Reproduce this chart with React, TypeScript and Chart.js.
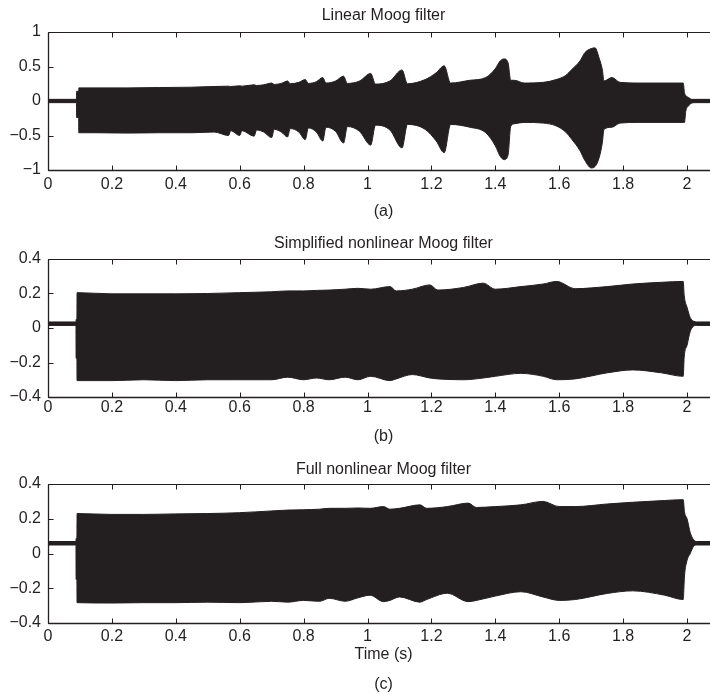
import React, { useEffect, useRef } from "react";
import { Chart, registerables } from "chart.js";

Chart.register(...registerables);

// ---------- shared axis ticks ----------
const xTicks = [0, 0.2, 0.4, 0.6, 0.8, 1, 1.2, 1.4, 1.6, 1.8, 2];
const xTickLabels = ["0", "0.2", "0.4", "0.6", "0.8", "1", "1.2", "1.4", "1.6", "1.8", "2"];
const yTicksA = [-1, -0.5, 0, 0.5, 1];
const yTickLabelsA = ["\u22121", "\u22120.5", "0", "0.5", "1"];
const yTicksBC = [-0.4, -0.2, 0, 0.2, 0.4];
const yTickLabelsBC = ["\u22120.4", "\u22120.2", "0", "0.2", "0.4"];

// ---------- (a) Linear Moog filter: envelope (time, upper, lower) ----------
const timeA = [0, 0.089, 0.0895, 0.096, 0.0965, 0.15, 0.25, 0.35, 0.45, 0.52, 0.565, 0.572, 0.6, 0.607, 0.645, 0.653, 0.675, 0.7, 0.708, 0.73, 0.75, 0.758, 0.785, 0.805, 0.815, 0.84, 0.86, 0.87, 0.9, 0.925, 0.937, 0.975, 1.01, 1.025, 1.07, 1.108, 1.125, 1.18, 1.215, 1.24, 1.26, 1.32, 1.37, 1.4, 1.415, 1.428, 1.44, 1.448, 1.46, 1.49, 1.55, 1.59, 1.62, 1.64, 1.665, 1.68, 1.7, 1.712, 1.725, 1.735, 1.74, 1.765, 1.79, 1.85, 1.95, 1.988, 1.992, 1.996, 2.005, 2.015, 2.025, 2.1];
const upperA = [0.024, 0.024, 0.14, 0.14, 0.19, 0.19, 0.19, 0.195, 0.2, 0.21, 0.215, 0.21, 0.22, 0.215, 0.235, 0.225, 0.235, 0.26, 0.24, 0.255, 0.29, 0.25, 0.27, 0.31, 0.255, 0.28, 0.34, 0.26, 0.29, 0.36, 0.255, 0.29, 0.4, 0.245, 0.29, 0.45, 0.25, 0.31, 0.41, 0.51, 0.26, 0.3, 0.34, 0.47, 0.58, 0.61, 0.55, 0.3, 0.3, 0.26, 0.27, 0.31, 0.37, 0.46, 0.58, 0.7, 0.76, 0.77, 0.62, 0.45, 0.29, 0.34, 0.27, 0.26, 0.26, 0.26, 0.12, 0.08, 0.05, 0.024, 0.024, 0.024];
const lowerA = [-0.024, -0.024, -0.24, -0.24, -0.46, -0.46, -0.465, -0.46, -0.46, -0.45, -0.5, -0.43, -0.5, -0.43, -0.51, -0.42, -0.45, -0.53, -0.41, -0.45, -0.52, -0.4, -0.45, -0.56, -0.39, -0.45, -0.58, -0.38, -0.44, -0.61, -0.37, -0.44, -0.64, -0.35, -0.42, -0.68, -0.34, -0.41, -0.58, -0.75, -0.34, -0.38, -0.46, -0.65, -0.8, -0.85, -0.78, -0.37, -0.33, -0.31, -0.32, -0.36, -0.45, -0.56, -0.72, -0.86, -0.97, -0.95, -0.82, -0.6, -0.41, -0.38, -0.32, -0.31, -0.31, -0.31, -0.31, -0.15, -0.07, -0.03, -0.024, -0.024];

// ---------- (b) Simplified nonlinear Moog filter ----------
const timeB = [0, 0.0875, 0.088, 0.0905, 0.091, 0.2, 0.3, 0.4, 0.5, 0.6, 0.7, 0.75, 0.8, 0.84, 0.88, 0.93, 0.97, 1.01, 1.07, 1.09, 1.14, 1.195, 1.22, 1.3, 1.362, 1.4, 1.48, 1.55, 1.592, 1.65, 1.75, 1.83, 1.92, 1.988, 1.991, 2.0, 2.01, 2.02, 2.03, 2.1];
const upperB = [0.035, 0.035, 0.05, 0.05, 0.205, 0.198, 0.198, 0.198, 0.2, 0.205, 0.21, 0.215, 0.215, 0.218, 0.22, 0.225, 0.23, 0.225, 0.24, 0.215, 0.225, 0.25, 0.22, 0.235, 0.26, 0.225, 0.24, 0.255, 0.27, 0.228, 0.24, 0.255, 0.265, 0.27, 0.19, 0.12, 0.06, 0.04, 0.035, 0.035];
const lowerB = [0.015, 0.015, -0.175, -0.175, -0.305, -0.305, -0.3, -0.305, -0.3, -0.3, -0.3, -0.285, -0.3, -0.29, -0.3, -0.285, -0.3, -0.28, -0.305, -0.295, -0.27, -0.29, -0.295, -0.3, -0.29, -0.28, -0.263, -0.28, -0.3, -0.295, -0.26, -0.243, -0.26, -0.28, -0.17, -0.1, -0.02, 0.01, 0.015, 0.015];

// ---------- (c) Full nonlinear Moog filter ----------
const timeC = [0, 0.0875, 0.088, 0.0905, 0.091, 0.2, 0.3, 0.4, 0.5, 0.6, 0.7, 0.75, 0.8, 0.85, 0.88, 0.93, 0.97, 1.008, 1.05, 1.07, 1.1, 1.164, 1.185, 1.25, 1.315, 1.341, 1.4, 1.48, 1.549, 1.6, 1.65, 1.75, 1.83, 1.93, 1.988, 1.992, 2.0, 2.01, 2.02, 2.03, 2.1];
const upperC = [0.069, 0.069, 0.087, 0.087, 0.23, 0.225, 0.225, 0.228, 0.23, 0.235, 0.245, 0.25, 0.252, 0.255, 0.26, 0.26, 0.262, 0.26, 0.27, 0.255, 0.26, 0.28, 0.26, 0.27, 0.29, 0.265, 0.27, 0.28, 0.3, 0.27, 0.27, 0.285, 0.295, 0.305, 0.31, 0.24, 0.2, 0.12, 0.08, 0.069, 0.069];
const lowerC = [0.049, 0.049, -0.149, -0.149, -0.283, -0.285, -0.283, -0.283, -0.28, -0.283, -0.275, -0.28, -0.27, -0.275, -0.258, -0.275, -0.255, -0.24, -0.277, -0.27, -0.25, -0.28, -0.265, -0.229, -0.277, -0.27, -0.245, -0.22, -0.25, -0.27, -0.265, -0.23, -0.215, -0.24, -0.265, -0.13, -0.04, 0, 0.04, 0.049, 0.049];

const INK = "#231f20";
const FONT = "'Liberation Sans', Arial, Helvetica, sans-serif";

const framePlugin = {
  id: "frame",
  afterDatasetsDraw(chart: any) {
    const { ctx, chartArea: a, scales } = chart;
    const x = scales.x;
    const y = scales.y;
    ctx.save();
    ctx.strokeStyle = INK;
    ctx.lineWidth = 1;
    ctx.beginPath();
    const top = Math.round(a.top) + 0.5;
    const bot = Math.round(a.bottom) + 0.5;
    const left = Math.round(a.left) + 0.5;
    const right = Math.round(a.right) + 0.5;
    ctx.moveTo(left, top);
    ctx.lineTo(right, top);
    ctx.moveTo(left, bot);
    ctx.lineTo(right, bot);
    ctx.moveTo(left, top);
    ctx.lineTo(left, bot);
    ctx.moveTo(right, top);
    ctx.lineTo(right, bot);
    const tl = 5;
    x.ticks.forEach((t: any) => {
      const px = Math.round(x.getPixelForValue(t.value)) + 0.5;
      ctx.moveTo(px, bot);
      ctx.lineTo(px, bot - tl);
      ctx.moveTo(px, top);
      ctx.lineTo(px, top + tl);
    });
    y.ticks.forEach((t: any) => {
      const py = Math.round(y.getPixelForValue(t.value)) + 0.5;
      ctx.moveTo(left, py);
      ctx.lineTo(left + tl, py);
      ctx.moveTo(right, py);
      ctx.lineTo(right - tl, py);
    });
    ctx.stroke();
    ctx.lineWidth = 1.3;
    ctx.beginPath();
    ctx.moveTo(left, bot);
    ctx.lineTo(right, bot);
    ctx.moveTo(left, top);
    ctx.lineTo(left, bot);
    ctx.stroke();
    ctx.restore();
  },
};

type PanelProps = {
  top: number;
  height: number;
  times: number[];
  upper: number[];
  lower: number[];
  yMin: number;
  yMax: number;
  yTicks: number[];
  yLabels: string[];
  title: string;
  caption: string;
  xTitle?: string;
  titlePad: { top: number; bottom: number };
  tickPad: number;
  xAxisHeight: number;
  captionPad: { top: number; bottom: number };
};

function Panel(p: PanelProps) {
  const ref = useRef<HTMLCanvasElement | null>(null);
  useEffect(() => {
    const canvas = ref.current!;
    const font = { family: FONT, size: 16, weight: "normal" as const, lineHeight: 1.25 };
    const lowerPts = p.times.map((t, i) => ({ x: t, y: p.lower[i] }));
    const upperPts = p.times.map((t, i) => ({ x: t, y: p.upper[i] }));
    const chart = new Chart(canvas, {
      type: "line",
      data: {
        datasets: [
          {
            data: lowerPts,
            borderColor: INK,
            borderWidth: 1,
            pointRadius: 0,
            fill: false,
            cubicInterpolationMode: "monotone",
          },
          {
            data: upperPts,
            borderColor: INK,
            backgroundColor: INK,
            borderWidth: 1,
            pointRadius: 0,
            fill: "-1",
            cubicInterpolationMode: "monotone",
          },
        ],
      },
      options: {
        animation: false,
        responsive: false,
        events: [],
        layout: { padding: { left: 0, right: 1, top: 0, bottom: 0 } },
        plugins: {
          legend: { display: false },
          tooltip: { enabled: false },
          title: {
            display: true,
            text: p.title,
            fullSize: false,
            color: INK,
            font,
            padding: p.titlePad,
          },
          subtitle: {
            display: true,
            text: p.caption,
            position: "bottom",
            fullSize: false,
            color: INK,
            font,
            padding: p.captionPad,
          },
        },
        scales: {
          x: {
            type: "linear",
            min: 0,
            max: 2.1,
            grid: { display: false, drawTicks: false },
            border: { display: false },
            afterBuildTicks: (s: any) => {
              s.ticks = xTicks.map((v) => ({ value: v }));
            },
            afterFit: (s: any) => {
              s.height = p.xAxisHeight;
            },
            ticks: {
              autoSkip: false,
              maxRotation: 0,
              padding: p.tickPad,
              color: INK,
              font,
              callback: (_v: any, i: number) => xTickLabels[i],
            },
            title: {
              display: !!p.xTitle,
              text: p.xTitle || "",
              color: INK,
              font,
              padding: { top: 0, bottom: 0 },
            },
          },
          y: {
            type: "linear",
            min: p.yMin,
            max: p.yMax,
            grid: { display: false, drawTicks: false },
            border: { display: false },
            afterBuildTicks: (s: any) => {
              s.ticks = p.yTicks.map((v) => ({ value: v }));
            },
            afterFit: (s: any) => {
              s.width = 48;
            },
            ticks: {
              padding: 7,
              color: INK,
              font,
              callback: (_v: any, i: number) => p.yLabels[i],
            },
          },
        },
      },
      plugins: [framePlugin],
    } as any);
    return () => chart.destroy();
  }, []);
  return (
    <canvas
      ref={ref}
      width={720}
      height={p.height}
      style={{ position: "absolute", left: 0, top: p.top, width: 720, height: p.height }}
    />
  );
}

export default function App() {
  return (
    <div
      style={{
        position: "absolute",
        left: 0,
        top: 0,
        width: 710,
        height: 695,
        overflow: "hidden",
        background: "#ffffff",
      }}
    >
      <Panel
        top={0}
        height={225}
        times={timeA}
        upper={upperA}
        lower={lowerA}
        yMin={-1}
        yMax={1}
        yTicks={yTicksA}
        yLabels={yTickLabelsA}
        title="Linear Moog filter"
        caption="(a)"
        titlePad={{ top: 6, bottom: 6 }}
        tickPad={5}
        xAxisHeight={25}
        captionPad={{ top: 7, bottom: 3 }}
      />
      <Panel
        top={225}
        height={230}
        times={timeB}
        upper={upperB}
        lower={lowerB}
        yMin={-0.4}
        yMax={0.4}
        yTicks={yTicksBC}
        yLabels={yTickLabelsBC}
        title="Simplified nonlinear Moog filter"
        caption="(b)"
        titlePad={{ top: 9, bottom: 5 }}
        tickPad={1}
        xAxisHeight={21}
        captionPad={{ top: 9, bottom: 8 }}
      />
      <Panel
        top={455}
        height={240}
        times={timeC}
        upper={upperC}
        lower={lowerC}
        yMin={-0.4}
        yMax={0.4}
        yTicks={yTicksBC}
        yLabels={yTickLabelsBC}
        title="Full nonlinear Moog filter"
        caption="(c)"
        xTitle="Time (s)"
        titlePad={{ top: 5, bottom: 4 }}
        tickPad={4}
        xAxisHeight={42}
        captionPad={{ top: 10, bottom: 0 }}
      />
    </div>
  );
}
